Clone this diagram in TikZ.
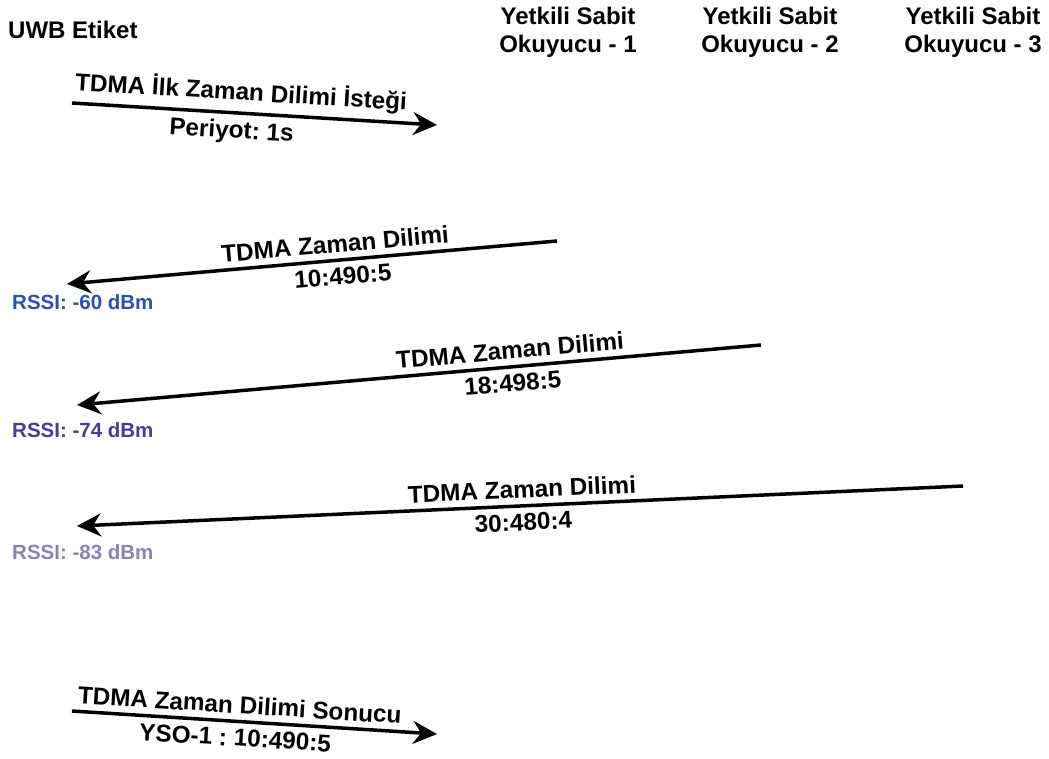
\documentclass[tikz,border=0pt]{standalone}
\usepackage{xcolor}
\usepackage{fontspec}
\setmainfont{Liberation Sans}
\usepackage{tikz}
\usetikzlibrary{arrows.meta}

\definecolor{rssiA}{HTML}{2850B8}
\definecolor{rssiB}{HTML}{4A3A9C}
\definecolor{rssiC}{HTML}{8A82B4}

\begin{document}
\frenchspacing
\begin{tikzpicture}[x=1pt, y=-1pt,
  actor/.style={font=\fontsize{24}{28}\selectfont\bfseries, align=center, inner sep=0pt},
  msg/.style={line width=3.5pt, -{Stealth[length=24pt, width=23pt, inset=8pt]}},
  lbl/.style={font=\fontsize{24.3}{28}\selectfont\bfseries, sloped, inner sep=6pt},
  rssi/.style={font=\fontsize{20.5}{24}\selectfont\bfseries, anchor=west, inner sep=0pt}]
\useasboundingbox (0,0) rectangle (1049,758);

% tag and the three readers
\node[actor, anchor=west] (tag) at (8,30) {UWB Etiket};
\node[actor] (yso1) at (568,32) {Yetkili Sabit\\Okuyucu - 1};
\node[actor] (yso2) at (770,32) {Yetkili Sabit\\Okuyucu - 2};
\node[actor] (yso3) at (973,32) {Yetkili Sabit\\Okuyucu - 3};

% message end points
\coordinate (req-a) at (72,103);
\coordinate (req-b) at (437,125);
\coordinate (slot1-a) at (557,241);
\coordinate (slot1-b) at (67,284);
\coordinate (slot2-a) at (761,345);
\coordinate (slot2-b) at (77,405);
\coordinate (slot3-a) at (963,486);
\coordinate (slot3-b) at (77,526);
\coordinate (res-a) at (72,711);
\coordinate (res-b) at (437,734);

% slot request
\draw[msg] (req-a) -- (req-b)
  node[lbl, above, pos=.46] {TDMA İlk Zaman Dilimi İsteği}
  node[lbl, below, pos=.44] {Periyot: 1s};

% replies from the readers
\draw[msg] (slot1-a) -- (slot1-b)
  node[lbl, above, pos=.45] {TDMA Zaman Dilimi}
  node[lbl, below, pos=.44] {10:490:5};
\node[rssi, text=rssiA] (rssi1) at (12,302) {RSSI: -60 dBm};

\draw[msg] (slot2-a) -- (slot2-b)
  node[lbl, above, pos=.365] {TDMA Zaman Dilimi}
  node[lbl, below, pos=.365] {18:498:5};
\node[rssi, text=rssiB] (rssi2) at (12,430) {RSSI: -74 dBm};

\draw[msg] (slot3-a) -- (slot3-b)
  node[lbl, above, pos=.497] {TDMA Zaman Dilimi}
  node[lbl, below, pos=.497] {30:480:4};
\node[rssi, text=rssiC] (rssi3) at (12,552) {RSSI: -83 dBm};

% chosen slot
\draw[msg] (res-a) -- (res-b)
  node[lbl, above, pos=.457] {TDMA Zaman Dilimi Sonucu}
  node[lbl, below, pos=.45] {YSO-1 : 10:490:5};
\end{tikzpicture}
\end{document}
